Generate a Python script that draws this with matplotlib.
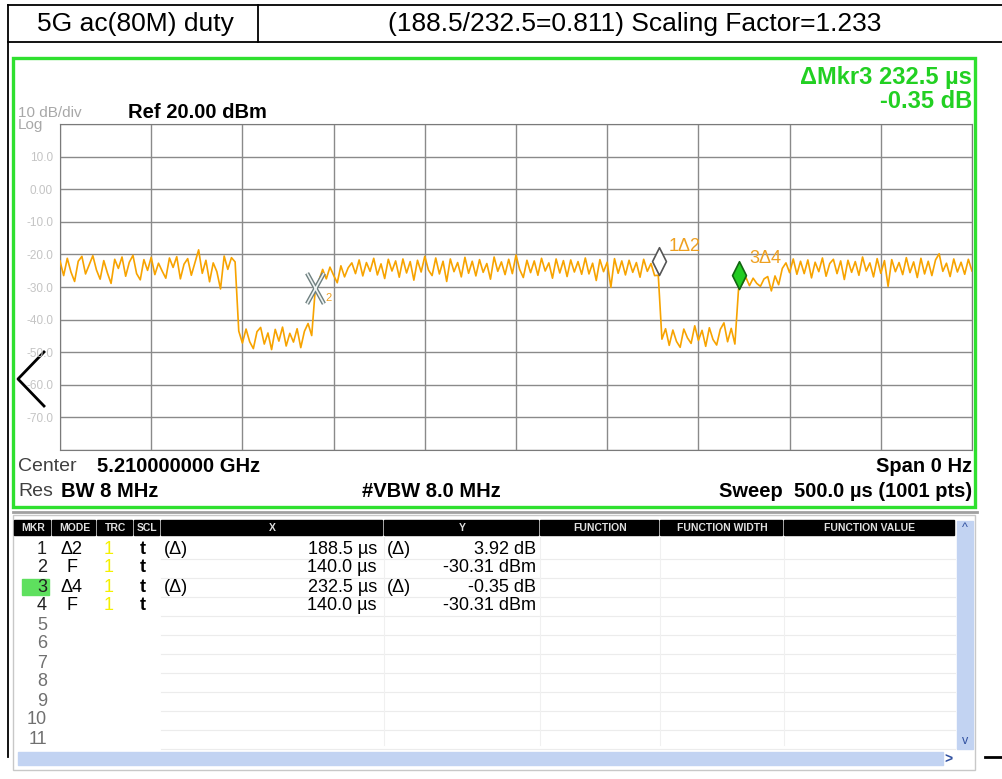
import numpy as np
import matplotlib
matplotlib.use('Agg')
import matplotlib.pyplot as plt
from matplotlib.patches import Rectangle
from matplotlib.path import Path

plt.rcParams['font.family'] = ['Liberation Sans', 'DejaVu Sans']

# --- trace data (dBm), sweep 0..500 us ---
burst1_dbm = [-22.0, -26.5, -21.2, -25.4, -28.3, -22.1, -20.6, -26.0, -23.2, -20.4,
              -24.8, -27.6, -21.9, -25.7, -28.9, -21.5, -24.3, -20.8, -26.7, -22.4,
              -20.3, -25.9, -27.8, -21.6, -24.9, -20.9, -26.2, -22.7, -25.1, -27.3,
              -21.1, -24.0, -20.7, -27.5, -23.0, -21.3, -26.4, -22.5, -18.6, -25.8,
              -21.8, -28.4, -22.6, -25.3, -30.6, -20.5, -24.6, -21.0, -22.3]
gap1_dbm = [-43.5, -47.2, -42.9, -46.8, -48.9, -43.7, -42.4, -47.5, -44.1, -49.2,
            -43.0, -46.6, -42.3, -48.1, -44.2, -46.9, -42.8, -48.6, -43.6, -41.2,
            -44.9]
rise_dbm = [-30.3]
burst2_dbm = [-27.9, -24.6, -27.5, -23.9, -26.4, -28.7, -23.5, -26.9, -24.1, -22.6,
              -25.9, -21.7, -26.6, -22.5, -25.2, -21.2, -26.3, -22.9, -27.4, -21.5,
              -25.1, -22.0, -27.0, -21.4, -25.7, -22.2, -27.9, -21.8, -25.4, -20.6,
              -24.8, -26.5, -21.1, -26.0, -22.1, -28.3, -21.4, -25.3, -22.5, -26.9,
              -20.9, -25.8, -22.1, -26.6, -21.6, -25.5, -22.8, -27.6, -20.8, -25.2,
              -22.3, -26.2, -21.5, -25.9, -20.2, -24.6, -27.1, -21.8, -25.6, -22.0,
              -26.4, -21.2, -25.1, -22.6, -27.3, -21.4, -25.7, -21.9, -26.8, -21.7,
              -25.4, -22.2, -26.1, -21.1, -26.0, -22.7, -28.0, -21.6, -25.3, -22.4,
              -30.1, -21.3, -25.8, -22.0, -26.3, -21.8, -25.5, -22.5, -27.0, -21.5,
              -25.2, -22.8, -26.5, -26.4]
gap2_dbm = [-46.0, -42.8, -47.9, -43.2, -46.7, -48.5, -42.9, -45.6, -47.3, -41.9,
            -46.4, -43.3, -48.2, -42.5, -46.1, -47.8, -43.0, -41.0, -46.8, -42.7,
            -47.5]
fall_dbm = [-30.7]
burst3_dbm = [-29.0, -27.0, -29.6, -27.3, -28.9, -29.8, -27.5, -26.8, -31.2, -26.6,
              -29.3, -24.3, -22.6, -25.6, -21.4, -26.1, -22.1, -25.9, -21.7, -27.2,
              -22.4, -25.3, -21.1, -26.7, -22.8, -21.5, -25.9, -22.0, -27.7, -21.8,
              -25.5, -22.2, -26.4, -20.8, -25.1, -22.6, -26.9, -21.3, -25.8, -21.9,
              -29.8, -21.6, -25.3, -22.5, -26.2, -21.0, -25.6, -22.3, -27.1, -21.2,
              -26.0, -22.1, -26.5, -21.7, -19.8, -25.2, -22.7, -26.8, -21.4, -25.4,
              -22.4, -26.1, -21.5, -25.1]

trace_dbm = burst1_dbm + gap1_dbm + rise_dbm + burst2_dbm + gap2_dbm + fall_dbm + burst3_dbm
time_us = np.linspace(0, 500, len(trace_dbm))

# --- marker table ---
mkr_num = ['1', '2', '3', '4']
mkr_mode = ['\u03942', 'F', '\u03944', 'F']
mkr_x_us = [188.5, 140.0, 232.5, 140.0]
mkr_y_val = [3.92, -30.31, -0.35, -30.31]
mkr_is_delta = [True, False, True, False]
empty_rows = ['5', '6', '7', '8', '9', '10', '11']

col_names = ['MKR', 'MODE', 'TRC', 'SCL', 'X', 'Y', 'FUNCTION', 'FUNCTION WIDTH', 'FUNCTION VALUE']
col_edges = [14, 52, 97, 134, 161, 384, 540, 660, 784, 956]

y_ticks = [10, 0, -10, -20, -30, -40, -50, -60, -70]
y_tick_labels = ['10.0', '0.00', '-10.0', '-20.0', '-30.0', '-40.0', '-50.0', '-60.0', '-70.0']

W, H = 1002, 779
fig = plt.figure(figsize=(W / 100, H / 100), dpi=100)

# overlay in pixel coords for the instrument chrome
ov = fig.add_axes([0, 0, 1, 1], zorder=0)
ov.set_xlim(0, W)
ov.set_ylim(H, 0)
ov.axis('off')

# header box
ov.plot([8, W], [5, 5], color='black', lw=1.3)
ov.plot([8, W], [42, 42], color='black', lw=1.3)
ov.plot([8, 8], [5, 757], color='black', lw=1.3)
ov.plot([258, 258], [5, 42], color='black', lw=1.3)
ov.plot([985, W], [757, 757], color='black', lw=2)
ov.text(135, 24, '5G ac(80M) duty', fontsize=19, ha='center', va='center')
ov.text(635, 24, '(188.5/232.5=0.811) Scaling Factor=1.233', fontsize=19, ha='center', va='center')

# green display frame
ov.add_patch(Rectangle((13, 58), 962, 449, fill=False, edgecolor='#2fe02f', lw=2.4))
green = '#22d022'
ov.text(972, 77, '\u0394Mkr3 232.5 \u00b5s', color=green, fontsize=17, fontweight='bold', ha='right', va='center')
ov.text(972, 101, '-0.35 dB', color=green, fontsize=17, fontweight='bold', ha='right', va='center')
ov.text(18, 113, '10 dB/div', color='#a8a8a8', fontsize=11, va='center')
ov.text(18, 125, 'Log', color='#a8a8a8', fontsize=11, va='center')
ov.text(128, 112, 'Ref 20.00 dBm', fontsize=14.5, fontweight='bold', va='center')

# left arrow
ov.plot([44, 18, 44], [352, 379, 406], color='black', lw=2)

# bottom readouts
ov.text(18, 466, 'Center', fontsize=14, color='#404040', va='center')
ov.text(97, 466, '5.210000000 GHz', fontsize=14.5, fontweight='bold', va='center')
ov.text(18, 491, 'Res', fontsize=14, color='#404040', va='center')
ov.text(61, 491, 'BW 8 MHz', fontsize=14.5, fontweight='bold', va='center')
ov.text(362, 491, '#VBW 8.0 MHz', fontsize=14.5, fontweight='bold', va='center')
ov.text(972, 466, 'Span 0 Hz', fontsize=14.5, fontweight='bold', va='center', ha='right')
ov.text(972, 491, 'Sweep  500.0 \u00b5s (1001 pts)', fontsize=14.5, fontweight='bold', va='center', ha='right')

# marker table panel
ov.plot([13, 977], [512, 512], color='#a0a0a0', lw=2)
ov.add_patch(Rectangle((13, 515), 962, 255, fill=False, edgecolor='#c8c8c8', lw=1))
for k, name in enumerate(col_names):
    x0, x1 = col_edges[k], col_edges[k + 1]
    ov.add_patch(Rectangle((x0, 520), x1 - x0 - 2, 15, color='black'))
    ov.text((x0 + x1) / 2, 528, name, color='#e0e0e0', fontsize=7.5, ha='center', va='center',
            fontweight='bold')

row_y0, row_dy = 549, 19
for r in range(len(mkr_num) + len(empty_rows)):
    yy = row_y0 + r * row_dy + 9.5
    ov.plot([161, 955], [yy, yy], color='#ececec', lw=0.8)
for xx in col_edges[5:9]:
    ov.plot([xx, xx], [536, 745], color='#f0f0f0', lw=0.8)

for r in range(len(mkr_num)):
    yy = row_y0 + r * row_dy
    if r == 2:
        ov.add_patch(Rectangle((22, yy - 8), 27, 16, color='#5ee05e'))
    ov.text(47, yy, mkr_num[r], fontsize=13, ha='right', va='center', color='#202020')
    ov.text(72, yy, mkr_mode[r], fontsize=13, ha='center', va='center')
    ov.text(109, yy, '1', fontsize=13, ha='center', va='center', color='#f4f000')
    ov.text(143, yy, 't', fontsize=13, ha='center', va='center', fontweight='bold')
    ov.text(377, yy, '%.1f \u00b5s' % mkr_x_us[r], fontsize=13, ha='right', va='center')
    unit = 'dB' if mkr_is_delta[r] else 'dBm'
    ov.text(536, yy, '%.2f %s' % (mkr_y_val[r], unit), fontsize=13, ha='right', va='center')
    if mkr_is_delta[r]:
        ov.text(164, yy, '(\u0394)', fontsize=13, va='center')
        ov.text(387, yy, '(\u0394)', fontsize=13, va='center')
for k, lab in enumerate(empty_rows):
    yy = row_y0 + (len(mkr_num) + k) * row_dy
    ov.text(47, yy, lab, fontsize=13, ha='right', va='center', color='#707070')

# scrollbars
ov.add_patch(Rectangle((957, 521), 16, 228, color='#c2d3f2'))
ov.text(965, 528, '^', fontsize=9, ha='center', va='center', color='#3050a0')
ov.text(965, 741, 'v', fontsize=9, ha='center', va='center', color='#3050a0')
ov.add_patch(Rectangle((18, 752), 925, 13, color='#c2d3f2'))
ov.text(948, 760, '>', fontsize=10, ha='center', va='center', color='#3050a0', fontweight='bold')

# --- trace display ---
ax = fig.add_axes([60 / W, 1 - 450 / H, 912 / W, 326 / H], zorder=2)
ax.plot(time_us, trace_dbm, color='#f7a300', lw=1.2, zorder=3)
ax.set_xlim(0, 500)
ax.set_ylim(-80, 20)
ax.set_xticks(np.linspace(0, 500, 11))
ax.set_xticklabels([])
ax.set_yticks(y_ticks)
ax.set_yticks([-80, 20], minor=True)
ax.grid(True, which='both', color='#8a8a8a', lw=1.0)
ax.set_yticklabels(y_tick_labels, color='#c4c4c4', fontsize=8.5)
ax.tick_params(which='both', length=0, pad=5)
for sp in ax.spines.values():
    sp.set_color('#7a7a7a')

# marker symbols
ref_t, ref_y = mkr_x_us[1], mkr_y_val[1]
m1_t, m1_y = ref_t + mkr_x_us[0], ref_y + mkr_y_val[0]
m3_t, m3_y = ref_t + mkr_x_us[2], ref_y + mkr_y_val[2]

diamond = Path([(0, 0), (0.5, 1), (0, 2), (-0.5, 1), (0, 0)],
               [Path.MOVETO, Path.LINETO, Path.LINETO, Path.LINETO, Path.CLOSEPOLY])
cross = Path([(-0.55, -1), (0.55, 1), (-0.55, 1), (0.55, -1)],
             [Path.MOVETO, Path.LINETO, Path.MOVETO, Path.LINETO])

ax.plot([m1_t], [m1_y], marker=diamond, ms=40, mfc='white', mec='#555555', mew=1.2, zorder=5)
ax.plot([m3_t], [m3_y], marker=diamond, ms=40, mfc='#22cc22', mec='#116611', mew=1.2, zorder=5)
ax.plot([ref_t], [ref_y], marker=cross, ms=22, mec='#6f8080', mew=3.2, zorder=5)
ax.plot([ref_t], [ref_y], marker=cross, ms=22, mec='#eef4f4', mew=1.2, zorder=6)

orange = '#eea020'
ax.annotate('1\u03942', (m1_t, m1_y), xytext=(7, 21), textcoords='offset points',
            color=orange, fontsize=13, va='center', zorder=7)
ax.annotate('3\u03944', (m3_t, m3_y), xytext=(7, 22), textcoords='offset points',
            color=orange, fontsize=13, va='center', zorder=7)
ax.annotate('2', (ref_t, ref_y), xytext=(7, -7), textcoords='offset points',
            color=orange, fontsize=8, va='center', zorder=7)

fig.savefig('out.png', dpi=100)
